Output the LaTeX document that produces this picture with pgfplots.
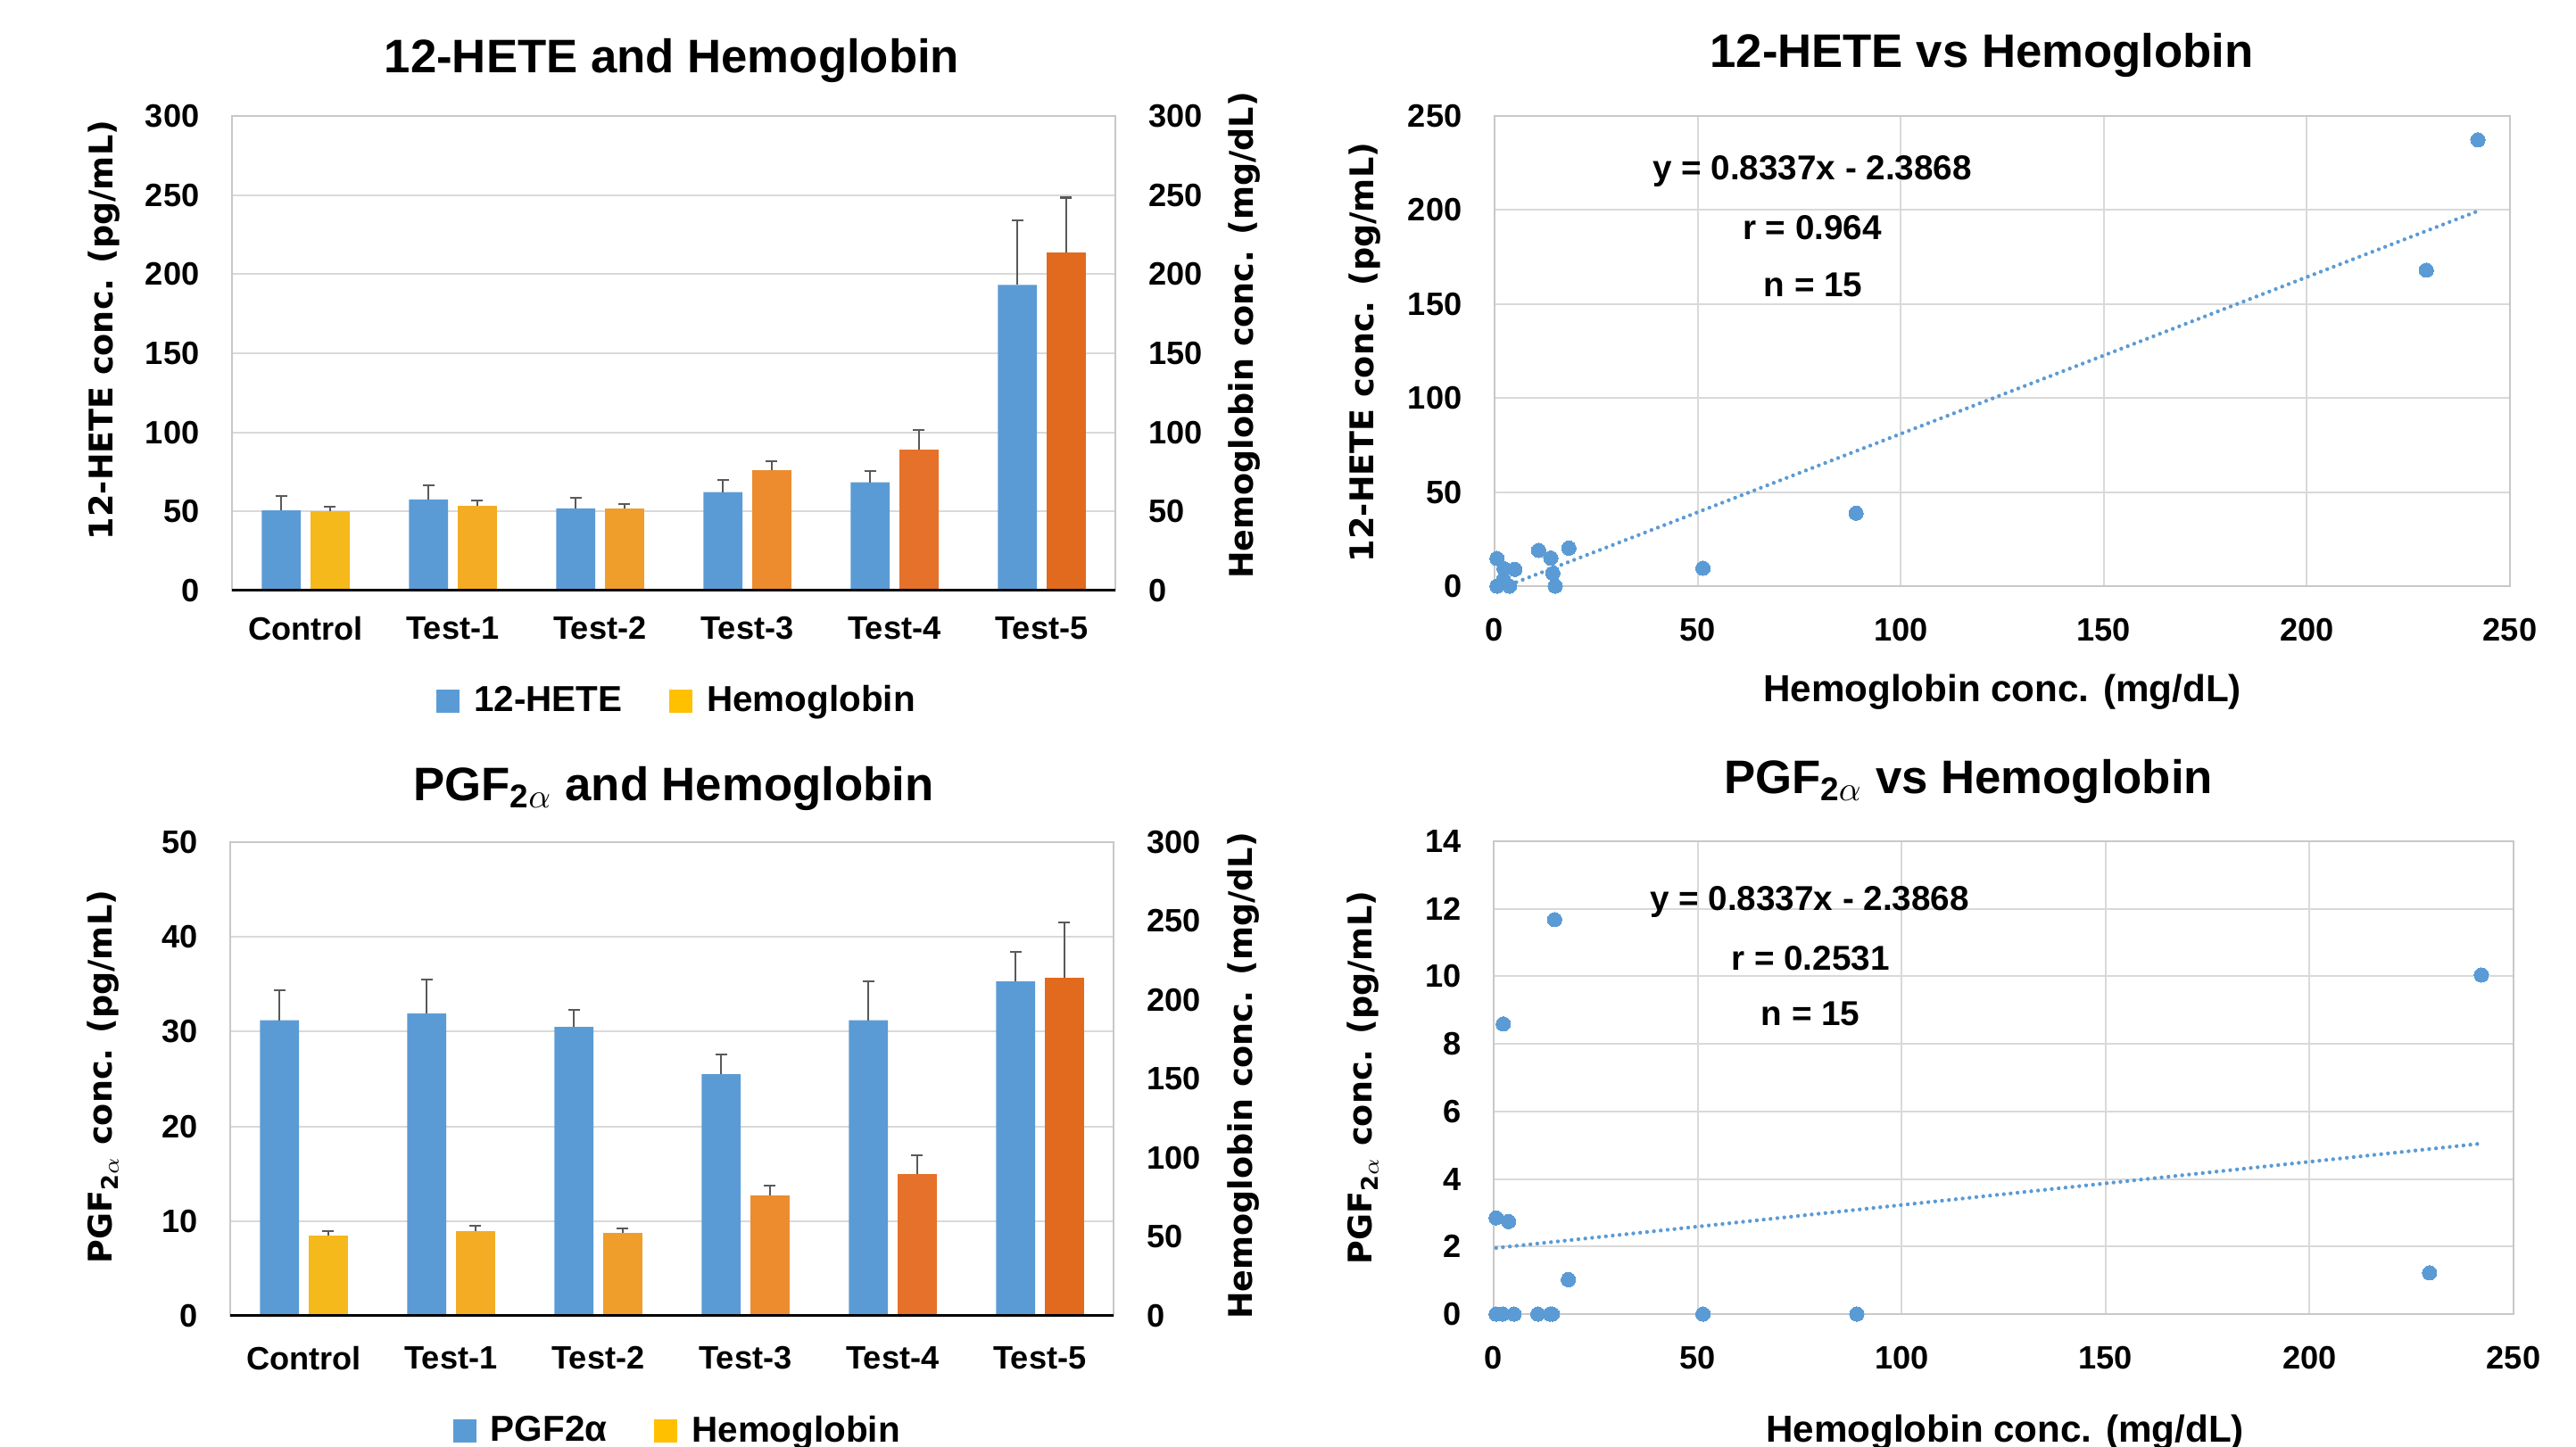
\documentclass[border=0pt]{standalone}
\usepackage{pgfplots}
\pgfplotsset{compat=1.18}
\usepackage{fontspec}
\setmainfont{Liberation Sans}
\newfontfamily\lblfont{DejaVu Sans}

\definecolor{hete}{HTML}{5B9BD5}
\definecolor{hbleg}{HTML}{FFC000}
\definecolor{hbA}{HTML}{F5B91B}
\definecolor{hbB}{HTML}{F3AC24}
\definecolor{hbC}{HTML}{EF9D2B}
\definecolor{hbD}{HTML}{EC8C2F}
\definecolor{hbE}{HTML}{E5712A}
\definecolor{hbF}{HTML}{E26A1E}
\definecolor{gridc}{HTML}{D9D9D9}
\definecolor{framec}{HTML}{C8C8C8}
\definecolor{errc}{HTML}{595959}

\newcommand\ticks{\fontsize{10.3}{12}\selectfont\bfseries}
\newcommand\ttl{\fontsize{15}{18}\selectfont\bfseries}
\newcommand\lbl{\lblfont\fontsize{10.4}{12}\selectfont\bfseries}
\newcommand\note{\fontsize{11}{13}\selectfont\bfseries}

\pgfplotsset{
  common/.style={
    scale only axis, anchor=south west,
    major tick length=0pt,
    axis line style={framec, line width=0.55pt},
    grid style={gridc, line width=0.55pt},
    /pgf/number format/assume math mode=true,
    ticklabel style={font=\ticks},
    xticklabel style={anchor=north, inner sep=0pt},
  },
  bars/.style={
    common, ybar, bar width=4.36mm,
    xmin=-0.5, xmax=5.5, xtick={0,...,5},
  },
  leftlab/.style={yticklabel style={anchor=east, inner sep=0pt, xshift=-3.6mm}},
  rightlab/.style={ytick pos=right, yticklabel pos=right,
    yticklabel style={anchor=west, inner sep=0pt, xshift=3.7mm},
    xtick=\empty},
  errs/.style={error bars/.cd, y dir=plus, y explicit,
    error bar style={draw=errc, line width=0.6pt},
    error mark=-,
    error mark options={rotate=90, draw=errc, line width=0.6pt, mark size=0.65mm}},
  sq/.style={legend image code/.code={\fill[##1, draw=none] (0mm,-1.3mm) rectangle (2.6mm,1.3mm);}},
  leg/.style={legend columns=2, legend cell align=left,
    legend style={draw=none, fill=none, anchor=center, inner sep=0pt,
      font=\fontsize{11.5}{13}\selectfont\bfseries,
      /tikz/every odd column/.append style={column sep=0.9mm},
      /tikz/every even column/.append style={column sep=4.6mm}}},
  sc/.style={
    common, xmin=0, xmax=250, xtick={0,50,...,250}, grid=major, leftlab,
    xticklabel style={yshift=-3.6mm},
  },
  dots/.style={hete, only marks, mark=*, mark size=2.3pt, mark options={draw=hete, fill=hete, line width=0pt}},
  trend/.style={hete, line width=1.25pt, line cap=round, dash pattern=on 0pt off 2.2pt},
}

\begin{document}
\begin{tikzpicture}
\useasboundingbox (0,0) rectangle (288.7mm,162.1mm);

%% ---------- top left: 12-HETE and Hemoglobin ----------
\begin{axis}[bars, leftlab, at={(26mm,95.9mm)}, width=99mm, height=53.2mm,
  ymin=0, ymax=300, ytick={0,50,...,300}, ymajorgrids,
  xticklabels={Control,Test-1,Test-2,Test-3,Test-4,Test-5},
  xticklabel style={yshift=-2.9mm}]
\addplot[fill=hete, draw=none, bar shift=-2.73mm, errs] coordinates {
  (0,50.7) +- (0,8.9)  (1,57.6) +- (0,8.9)  (2,51.9) +- (0,6.9)
  (3,62.3) +- (0,7.4)  (4,68.5) +- (0,6.9)  (5,193.2) +- (0,40.9)};
\end{axis}
\begin{axis}[bars, rightlab, at={(26mm,95.9mm)}, width=99mm, height=53.2mm,
  ymin=0, ymax=300, ytick={0,50,...,300},
  sq, leg, legend style={at={(0.506,-0.233)}}]
\addplot[fill=hbA, draw=none, bar shift=2.73mm, forget plot, errs] coordinates {(0,50.1) +- (0,3.0)};
\addplot[fill=hbB, draw=none, bar shift=2.73mm, forget plot, errs] coordinates {(1,53.4) +- (0,3.6)};
\addplot[fill=hbC, draw=none, bar shift=2.73mm, forget plot, errs] coordinates {(2,51.9) +- (0,2.7)};
\addplot[fill=hbD, draw=none, bar shift=2.73mm, forget plot, errs] coordinates {(3,76.0) +- (0,5.9)};
\addplot[fill=hbE, draw=none, bar shift=2.73mm, forget plot, errs] coordinates {(4,89.3) +- (0,12.2)};
\addplot[fill=hbF, draw=none, bar shift=2.73mm, forget plot, errs] coordinates {(5,213.6) +- (0,34.8)};
\addlegendimage{fill=hete}\addlegendentry{12-HETE}
\addlegendimage{fill=hbleg}\addlegendentry{Hemoglobin}
\draw[black, line width=0.9pt] (rel axis cs:0,0) -- (rel axis cs:1,0);
\end{axis}

%% ---------- bottom left: PGF2a and Hemoglobin ----------
\begin{axis}[bars, leftlab, at={(25.8mm,14.6mm)}, width=99mm, height=53.1mm,
  ymin=0, ymax=50, ytick={0,10,...,50}, ymajorgrids,
  xticklabels={Control,Test-1,Test-2,Test-3,Test-4,Test-5},
  xticklabel style={yshift=-3.4mm}]
\addplot[fill=hete, draw=none, bar shift=-2.73mm, errs] coordinates {
  (0,31.2) +- (0,3.2)  (1,31.9) +- (0,3.6)  (2,30.5) +- (0,1.8)
  (3,25.5) +- (0,2.1)  (4,31.2) +- (0,4.1)  (5,35.3) +- (0,3.1)};
\end{axis}
\begin{axis}[bars, rightlab, at={(25.8mm,14.6mm)}, width=99mm, height=53.1mm,
  ymin=0, ymax=300, ytick={0,50,...,300},
  sq, leg, legend style={at={(0.509,-0.243)}}]
\addplot[fill=hbA, draw=none, bar shift=2.73mm, forget plot, errs] coordinates {(0,50.7) +- (0,2.9)};
\addplot[fill=hbB, draw=none, bar shift=2.73mm, forget plot, errs] coordinates {(1,53.6) +- (0,3.5)};
\addplot[fill=hbC, draw=none, bar shift=2.73mm, forget plot, errs] coordinates {(2,52.5) +- (0,2.9)};
\addplot[fill=hbD, draw=none, bar shift=2.73mm, forget plot, errs] coordinates {(3,76.2) +- (0,6.1)};
\addplot[fill=hbE, draw=none, bar shift=2.73mm, forget plot, errs] coordinates {(4,89.9) +- (0,11.8)};
\addplot[fill=hbF, draw=none, bar shift=2.73mm, forget plot, errs] coordinates {(5,214.2) +- (0,34.8)};
\addlegendimage{fill=hete}\addlegendentry{PGF2α}
\addlegendimage{fill=hbleg}\addlegendentry{Hemoglobin}
\draw[black, line width=0.9pt] (rel axis cs:0,0) -- (rel axis cs:1,0);
\end{axis}

%% ---------- top right: 12-HETE vs Hemoglobin ----------
\begin{axis}[sc, at={(167.5mm,96.4mm)}, width=113.8mm, height=52.7mm,
  ymin=0, ymax=250, ytick={0,50,...,250}]
\addplot[trend] coordinates {(0.59,-1.895) (242.1,199.45)};
\addplot[dots] coordinates {
  (0.59,14.7) (0.59,0) (2.2,3.5) (2.34,9.2) (3.66,0) (4.98,8.9)
  (10.84,19.0) (13.84,14.9) (14.35,6.8) (14.94,0) (18.3,20.2)
  (51.3,9.5) (89.0,38.8) (229.4,168.0) (242.1,237.3)};
\end{axis}

%% ---------- bottom right: PGF2a vs Hemoglobin ----------
\begin{axis}[sc, at={(167.4mm,14.8mm)}, width=114.3mm, height=53mm,
  ymin=0, ymax=14, ytick={0,2,...,14}]
\addplot[trend] coordinates {(0.59,1.958) (242.1,5.05)};
\addplot[dots] coordinates {
  (0.59,2.85) (0.59,0) (2.2,0) (2.34,8.59) (3.66,2.74) (4.98,0)
  (10.84,0) (13.84,0) (14.35,0) (14.94,11.68) (18.3,1.02)
  (51.3,0) (89.0,0) (229.4,1.22) (242.1,10.04)};
\end{axis}

%% ---------- titles ----------
\node[anchor=base] at (75.3mm,153.9mm) {\ttl 12-HETE and Hemoglobin};
\node[anchor=base] at (222.1mm,154.5mm) {\ttl 12-HETE vs Hemoglobin};
\node[anchor=base] at (75.5mm,72.4mm) {\ttl PGF\textsubscript{2$\alpha$} and Hemoglobin};
\node[anchor=base] at (220.6mm,73.2mm) {\ttl PGF\textsubscript{2$\alpha$} vs Hemoglobin};

%% ---------- axis titles ----------
\node[rotate=90] at (11.7mm,125.1mm) {\lbl 12-HETE conc. (pg/mL)};
\node[rotate=90] at (139.5mm,124.5mm) {\lbl Hemoglobin conc. (mg/dL)};
\node[rotate=90] at (153.0mm,122.6mm) {\lbl 12-HETE conc. (pg/mL)};
\node at (224.4mm,84.5mm) {\fontsize{12}{14}\selectfont\bfseries Hemoglobin conc. (mg/dL)};
\node[rotate=90] at (11.6mm,41.4mm) {\lbl PGF\textsubscript{2$\alpha$} conc. (pg/mL)};
\node[rotate=90] at (139.4mm,41.5mm) {\lbl Hemoglobin conc. (mg/dL)};
\node[rotate=90] at (152.8mm,41.3mm) {\lbl PGF\textsubscript{2$\alpha$} conc. (pg/mL)};
\node at (224.7mm,1.5mm) {\fontsize{12}{14}\selectfont\bfseries Hemoglobin conc. (mg/dL)};

%% ---------- regression notes ----------
\node at (203.1mm,142.9mm) {\note y = 0.8337x - 2.3868};
\node at (203.1mm,136.6mm) {\note r = 0.964};
\node at (203.2mm,130.2mm) {\note n = 15};
\node at (202.8mm,61.0mm) {\note y = 0.8337x - 2.3868};
\node at (202.9mm,54.7mm) {\note r = 0.2531};
\node at (202.9mm,48.5mm) {\note n = 15};
\end{tikzpicture}
\end{document}
